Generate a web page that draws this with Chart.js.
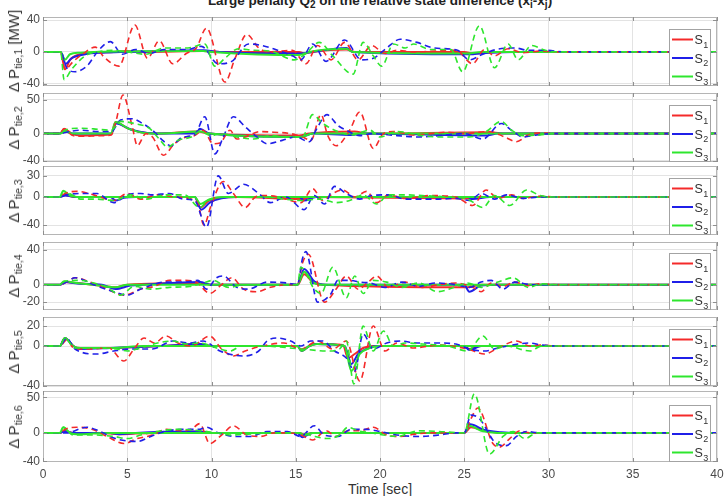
<!DOCTYPE html>
<html><head><meta charset="utf-8">
<script src="https://cdn.jsdelivr.net/npm/chart.js@4/dist/chart.umd.min.js"></script>
<style>
body{margin:0;background:#fff;}
#wrap{position:relative;width:725px;height:496px;overflow:hidden;background:#fff;font-family:"Liberation Sans",Arial,sans-serif;}
canvas{position:absolute;left:0;}
.yl{position:absolute;white-space:nowrap;font-size:15px;color:#333;transform:translate(-50%,-50%) rotate(-90deg);line-height:18px;}
.yl sub{font-size:10.5px;vertical-align:-3px;}
#title{position:absolute;left:43px;width:674px;top:-7px;text-align:center;font-weight:bold;font-size:13.5px;line-height:15px;color:#222;white-space:nowrap;}
#title sub{font-size:10px;vertical-align:-3px;}
#xt{position:absolute;left:43px;width:674px;top:481px;text-align:center;font-size:14px;color:#333;}
</style></head>
<body><div id="wrap">
<div id="title">Large penalty Q<sub>2</sub> on the relative state difference (x<sub>i</sub>-x<sub>j</sub>)</div>
<div id="xt">Time [sec]</div>
</div>
<script>
// ---------------- DATA ----------------
const timeTicks = [0, 5, 10, 15, 20, 25, 30, 35, 40];
const seriesNames = ['S1', 'S2', 'S3'];
const panelLabels = ['tie,1', 'tie,2', 'tie,3', 'tie,4', 'tie,5', 'tie,6'];
const yTickValues = [[-40, 0, 40], [-40, 0, 50], [-40, 0, 30], [-20, 0, 40], [-40, 0, 20], [-40, 0, 50]];
const yLimits = [[-43, 44], [-42, 60], [-54, 44], [-29, 49], [-40, 29], [-41, 59]];

// panel 1
const tie1_S1 = [[0,0],[1.05,0],[1.3,-22],[1.6,-10],[2.2,-3],[3,-1],[4.2,0],[5,1],[6,0],[9.5,1],[10.5,0],[15.2,0],[15.5,-2],[16,0],[18,3],[18.5,0],[25,0],[25.5,-2],[27,0],[40,0]];
const tie1_S2 = [[0,0],[1.05,0],[1.35,-15],[1.7,-8],[2.5,-3],[3.5,-1],[5,0],[9.5,2],[10.5,0],[15.3,-2],[16,0],[18,5],[18.4,0],[25.2,-3],[26.5,-1],[28,0],[40,0]];
const tie1_S3 = [[0,0],[1.05,0],[1.3,-10],[1.6,-3],[2.2,-1],[3,0],[9.5,1],[10,0],[15.2,-4],[15.8,0],[18,4],[18.4,0],[25.2,-2],[26,0],[40,0]];
const tie1_S1d = [[0,0],[1.05,0],[1.3,-22],[1.8,-12],[2.4,-2],[3.1,6],[3.6,-6],[4.5,-18],[5.45,34],[6.2,-8],[6.9,14],[7.7,-15],[8.5,-2],[9.1,5],[9.7,30],[10.8,-38],[11.4,-8],[12.1,22],[12.8,5],[13.4,0],[14.8,2],[15.6,-15],[16.3,8],[17.1,-10],[17.9,12],[18.7,-10],[19.5,8],[20.3,-2],[21,2],[22,0],[24.5,2],[25.5,-15],[26.2,3],[26.8,-5],[27.6,4],[28.5,-1],[29.5,1],[30.5,0],[40,0]];
const tie1_S2d = [[0,0],[1.05,0],[1.4,-20],[1.9,-25],[2.6,-18],[3.3,2],[4.0,13],[4.7,-3],[5.5,3],[6.3,-2],[7.2,3],[8.5,3],[9.4,7],[10.4,-15],[11.2,-12],[12.2,10],[13,8],[13.8,3],[14.8,-5],[15.3,-10],[16,10],[16.8,-12],[17.9,15],[18.9,-10],[19.6,-8],[20.4,5],[21.2,16],[22.2,12],[23.2,5],[24.6,2],[25.3,-10],[26.1,-3],[26.9,3],[28,5],[28.8,2],[29.8,2],[31,0],[40,0]];
const tie1_S3d = [[0,0],[1.05,0],[1.25,-35],[1.7,-22],[2.5,-5],[3.2,0],[4.2,2],[5,0],[6.1,-3],[7.2,5],[8.6,5],[9.6,10],[10.2,-18],[10.8,-8],[11.6,4],[12.5,2],[13.5,1],[14.9,-10],[15.6,-2],[16.4,12],[17.2,-5],[18.4,-28],[19,12],[19.6,-5],[20.1,-18],[20.8,10],[21.5,5],[22,10],[23,3],[24.2,3],[24.9,-25],[25.9,33],[26.8,-20],[27.6,10],[28.2,-10],[29,8],[29.8,2],[30.5,0],[40,0]];

// panel 2
const tie2_S1 = [[0,0],[1,0],[1.25,7],[1.7,0],[2.2,-3],[3.5,-2],[4.05,-1],[4.3,17],[5,8],[5.8,2],[6.8,0],[9.2,3],[9.8,0],[15.2,-3],[15.8,0],[18.5,3],[19.2,0],[26.5,2],[27.5,0],[40,0]];
const tie2_S2 = [[0,0],[1,0],[1.3,3],[1.8,0],[4.05,0],[4.35,15],[5.2,6],[6.2,1],[7.2,0],[9.1,0],[9.3,7],[9.9,0],[15.3,-5],[16,0],[18.3,-2],[19,0],[26.3,-3],[27,0],[40,0]];
const tie2_S3 = [[0,0],[1,0],[1.3,3],[1.8,0],[4.05,0],[4.3,17],[5.1,7],[6,1],[7,0],[9.3,3],[9.9,0],[15.3,-5],[16,0],[40,0]];
const tie2_S1d = [[0,0],[1,0],[1.25,7],[1.7,-2],[2.2,-4],[3.5,-3],[4.05,-2],[4.3,15],[4.75,57],[5.3,10],[5.6,-18],[6.1,0],[6.5,-5],[7.15,-32],[7.8,-15],[8.5,-5],[9,-3],[9.5,5],[10.1,-15],[10.5,-14],[11.1,5],[11.5,-8],[12,-5],[12.9,3],[13.7,2],[14.7,0],[15.4,-5],[15.9,-10],[16.5,28],[16.9,-3],[17.4,-18],[18.2,5],[18.8,32],[19.6,-22],[20.2,0],[20.8,3],[22,-2],[23,0],[24,2],[25,0],[26.5,3],[27.4,-5],[28.1,-12],[28.8,-2],[29.5,1],[30.5,0],[40,0]];
const tie2_S2d = [[0,0],[1,0],[1.4,2],[2.2,5],[3.3,3],[4.05,3],[4.6,20],[5.3,22],[5.9,15],[6.5,5],[7.1,-10],[7.6,-18],[8.3,-5],[9,-2],[9.6,25],[10.2,-30],[10.7,-5],[11.3,25],[12,10],[12.7,-5],[13.3,-15],[14.2,-10],[15,-5],[15.8,-12],[16.2,5],[16.85,28],[17.5,12],[18,5],[18.8,-3],[19.5,0],[21,-3],[22.3,-5],[23.5,-3],[25,0],[26.1,-8],[27.2,15],[27.8,5],[28.5,-5],[29.3,-2],[30.2,0],[40,0]];
const tie2_S3d = [[0,0],[1,0],[1.3,5],[2,8],[3,7],[4.05,5],[4.6,18],[5.4,15],[6.3,8],[6.9,-8],[7.4,-20],[8,-10],[8.8,-5],[9.3,3],[10,-3],[10.6,0],[11.5,-5],[12.5,-8],[13.5,-3],[14.5,-5],[15.4,-5],[16,28],[16.6,15],[17.5,3],[18.3,-2],[19.4,5],[20,-5],[21,3],[22.5,-3],[23.5,-5],[24.5,-5],[25.3,-5],[26.3,3],[27.2,18],[27.8,5],[28.5,-3],[29.5,-2],[30.2,0],[40,0]];

// panel 3
const tie3_S1 = [[0,0],[1,0],[1.25,3],[1.8,0],[9,0],[9.35,-15],[9.8,-6],[10.5,-1],[11.5,0],[15.3,-3],[16,0],[25.3,-2],[26,0],[40,0]];
const tie3_S2 = [[0,0],[1,0],[1.3,2],[2,0],[4,0],[4.3,-5],[4.8,-1],[5.5,0],[9,0],[9.4,-18],[9.9,-8],[10.6,-2],[11.5,0],[15.2,0],[15.5,-5],[16.2,0],[25.2,0],[25.5,-3],[26.5,0],[40,0]];
const tie3_S3 = [[0,0],[1,0],[1.2,9],[1.6,2],[2.2,0],[9,0],[9.35,-10],[9.9,-3],[10.8,0],[40,0]];
const tie3_S1d = [[0,0],[1,0],[1.3,5],[2,8],[3,3],[4.2,-5],[5,5],[5.8,-3],[6.8,3],[7.8,0],[8.8,-3],[9.2,-10],[9.55,-40],[10,-10],[10.7,22],[11.3,5],[12,-15],[12.6,0],[13.1,2],[14,0],[15.3,-8],[16,12],[16.6,-5],[17.2,5],[17.8,10],[18.5,0],[19.2,8],[19.8,-8],[20.5,3],[21.5,-2],[23,2],[24.5,0],[25.5,-12],[26.3,10],[27,-2],[27.8,3],[28.5,-2],[29.5,1],[30.5,0],[40,0]];
const tie3_S2d = [[0,0],[1,0],[1.4,3],[2.2,5],[3.2,5],[4.2,-8],[5,3],[5.8,5],[6.5,3],[7.5,5],[8.3,-3],[9,-5],[9.7,-43],[10.4,30],[11,5],[11.9,18],[12.8,5],[13.5,-8],[14.4,0],[15.5,-18],[16.1,2],[16.7,-10],[17.3,15],[18,5],[18.8,-3],[19.5,2],[20.5,3],[21.5,-3],[22.5,-3],[23.5,-3],[24.5,-2],[25.3,-5],[26,5],[26.8,-3],[27.5,3],[28.5,-2],[29.5,0],[40,0]];
const tie3_S3d = [[0,0],[1,0],[1.2,8],[1.8,2],[2.2,-3],[3.2,-3],[4.2,-5],[5.2,3],[6.1,-3],[7.3,3],[8.4,3],[9.3,-15],[9.8,-5],[10.8,0],[13,0],[15.3,-5],[16.4,-3],[17.4,-8],[18.2,-5],[19,3],[19.8,-10],[20.5,3],[21.5,3],[22.5,2],[24,0],[25.2,-3],[26.1,-15],[26.8,2],[27.7,-12],[28.7,10],[29.5,2],[30.3,0],[40,0]];

// panel 4
const tie4_S1 = [[0,0],[1,0],[1.3,3],[2,2],[3,0],[4.3,-3],[5,0],[9.3,2],[10,0],[15.1,0],[15.5,12],[16,3],[16.6,0],[25.2,-3],[26,0],[40,0]];
const tie4_S2 = [[0,0],[1,0],[1.3,3],[2.2,1],[3.5,0],[4.3,-5],[5.2,-1],[6,0],[9.3,3],[10,0],[15.1,0],[15.5,18],[16.1,4],[16.8,0],[25,0],[25.3,-8],[26,-1],[27,0],[40,0]];
const tie4_S3 = [[0,0],[1,0],[1.25,4],[2,2],[3,0],[4.3,-3],[5,0],[15.1,0],[15.5,15],[16,3],[16.6,0],[40,0]];
const tie4_S1d = [[0,0],[1,0],[1.4,3],[1.9,8],[2.8,3],[3.6,-3],[4.8,-12],[5.8,-5],[6.6,-2],[7.5,5],[8.4,5],[9.1,3],[9.9,-10],[10.6,0],[11.2,8],[11.9,-5],[12.7,-8],[13.5,-3],[14.5,0],[15.1,0],[15.4,25],[15.75,35],[16.7,-20],[17.4,-5],[18,10],[18.7,-5],[19.3,3],[19.8,10],[20.5,-3],[21.5,3],[22.5,-3],[23.5,0],[24.5,2],[25.5,-3],[26,-8],[26.6,2],[27.3,-2],[28,3],[28.8,-1],[29.5,1],[30.5,0],[40,0]];
const tie4_S2d = [[0,0],[1,0],[1.4,3],[1.9,8],[3,0],[4.2,-8],[5,-12],[5.8,-5],[7.3,3],[8.4,3],[9.2,5],[9.7,-5],[10.3,8],[10.7,10],[11.5,-3],[12.2,-5],[13.3,3],[14.5,2],[15.1,0],[15.4,30],[15.6,38],[16.3,-20],[17.1,-10],[17.5,5],[18.2,5],[18.8,3],[19.4,2],[20.3,-3],[21.3,3],[22.3,-2],[23.3,2],[24.5,0],[25.3,-3],[26,3],[26.6,5],[27.3,-5],[28,3],[29,0],[40,0]];
const tie4_S3d = [[0,0],[1,0],[1.3,4],[2.2,5],[3,2],[3.8,-3],[4.6,-12],[5.4,-2],[6.4,-5],[7.5,-3],[8.7,-2],[9.5,2],[10.1,5],[11,-3],[12,0],[13.5,0],[15.1,0],[15.3,20],[16.1,-5],[16.5,-10],[17.2,20],[18,-15],[18.5,10],[19,-10],[19.6,5],[20.4,3],[21.3,-3],[22.3,2],[23.4,-8],[24.4,-3],[25.2,2],[26,-3],[27,3],[27.9,8],[28.8,-3],[29.6,1],[30.5,0],[40,0]];

// panel 5
const tie5_S1 = [[0,0],[1,0],[1.3,8],[1.8,0],[2.2,-2],[4,-2],[5.5,-1],[7,0],[9.3,2],[10,0],[15.1,0],[15.35,-5],[15.8,0],[16.2,2],[17.8,1],[18.1,-12],[18.5,-8],[19,-2],[19.6,0],[25,0],[25.3,-3],[26,0],[40,0]];
const tie5_S2 = [[0,0],[1,0],[1.3,8],[1.8,0],[2.2,-3],[4,-2],[5.5,-1],[7,0],[9.3,2],[10,0],[15.1,0],[15.35,-5],[15.8,0],[16.2,2],[17.9,0],[18.3,-18],[18.7,-8],[19.2,-3],[19.8,0],[25,0],[25.3,-4],[26,0],[40,0]];
const tie5_S3 = [[0,0],[1,0],[1.3,8],[1.8,0],[2.2,-2],[4,-2],[6,0],[15.1,0],[15.35,-5],[15.8,0],[16.3,2],[17.9,0],[18.3,-25],[18.8,-8],[19.4,-2],[20,0],[40,0]];
const tie5_S1d = [[0,0],[1,0],[1.4,6],[1.9,-3],[2.8,-3],[3.9,-2],[4.8,-15],[5.4,-3],[6,8],[6.6,3],[7.3,10],[8,3],[8.8,0],[9.9,10],[10.6,-3],[11.3,-10],[12,-5],[13,0],[14.3,3],[15.3,-3],[16.3,5],[17.2,-3],[18,5],[18.8,-35],[19.6,20],[20.3,-5],[21,3],[22,-2],[23.5,1],[25.2,-3],[26.2,-8],[27,-2],[28.1,5],[28.9,0],[29.5,1],[30.5,0],[40,0]];
const tie5_S2d = [[0,0],[1,0],[1.4,8],[1.9,-3],[3.2,-8],[4.2,-5],[5.3,-3],[6.5,-3],[7.7,5],[8.7,3],[9.5,5],[10.5,-5],[11.9,-10],[12.8,-5],[13.3,5],[13.9,8],[14.7,5],[15.3,0],[15.9,5],[16.6,5],[17.3,-5],[18,-12],[18.5,-25],[19,12],[19.6,-3],[20.4,3],[21.2,5],[22.2,3],[23.4,3],[24.5,2],[25.3,-3],[26.2,-5],[27,-2],[28.2,2],[28.8,3],[29.6,1],[30.5,0],[40,0]];
const tie5_S3d = [[0,0],[1,0],[1.3,8],[1.9,-2],[3.5,-2],[4.4,-3],[5,-5],[5.8,-2],[6.8,3],[7.7,5],[8.5,2],[9.3,3],[10.3,-2],[11.1,-5],[11.8,0],[13,0],[15.3,-3],[16.9,-5],[17.6,-3],[18,5],[18.45,-38],[19,20],[19.6,-5],[20.2,15],[20.8,0],[21.5,3],[22.5,2],[24,0],[25.2,-5],[26.1,10],[26.8,-3],[27.5,0],[28.9,-5],[29.6,0],[40,0]];

// panel 6
const tie6_S1 = [[0,0],[1,0],[1.3,3],[1.8,0],[3.5,0],[4.5,-2],[5.5,-1],[7,0],[9.3,2],[10,0],[15.2,0],[15.5,-2],[16,0],[25,0],[25.4,8],[26.2,3],[27.2,0],[40,0]];
const tie6_S2 = [[0,0],[1,0],[1.3,2],[1.8,0],[4,0],[4.5,-2],[5.5,0],[9.3,2],[10,0],[15.1,0],[15.4,-6],[16,0],[25,0],[25.35,12],[26.2,4],[27.2,1],[28,0],[40,0]];
const tie6_S3 = [[0,0],[1,0],[1.2,8],[1.6,0],[2,-2],[3,-1],[4,0],[15.2,0],[15.5,-3],[16,0],[25,0],[25.3,10],[26,3],[27,0],[40,0]];
const tie6_S1d = [[0,0],[1,0],[1.3,5],[2,8],[2.9,5],[3.8,-5],[4.8,-15],[5.6,-8],[6.5,-3],[7.3,5],[8.2,3],[8.8,5],[9.3,13],[9.9,-15],[10.6,-3],[11.3,10],[12.1,-3],[12.9,-5],[13.7,0],[14.5,0],[15.3,-3],[16,-10],[16.8,3],[17.4,-5],[18.1,3],[18.8,3],[19.6,8],[20.4,-3],[21.2,-5],[22,-2],[23,0],[25,0],[25.4,20],[25.8,35],[26.7,-15],[27.1,-20],[27.7,-8],[28.3,3],[28.9,0],[30,0],[40,0]];
const tie6_S2d = [[0,0],[1,0],[1.4,0],[2.6,8],[3.3,3],[4.3,-8],[5.6,-12],[6.4,-5],[7.2,2],[8.3,5],[9.3,5],[9.7,8],[10.4,0],[11.5,-5],[12.3,-5],[13.3,2],[14.5,2],[15.3,-5],[16.1,10],[16.7,-3],[17.5,-5],[18.3,5],[19.2,5],[20,2],[21,-3],[22.4,-5],[23.5,-3],[24.5,0],[25,0],[25.4,25],[25.9,20],[26.9,-15],[27.5,-18],[28.1,-5],[28.7,2],[29.5,0],[40,0]];
const tie6_S3d = [[0,0],[1,0],[1.2,8],[1.8,-3],[3,-3],[4.2,-5],[5,-8],[5.8,-3],[7,3],[8.1,5],[9.3,3],[10.3,0],[11.1,-3],[12,-2],[13.5,0],[15.2,0],[15.8,-3],[16.9,-8],[17.6,-3],[18.1,8],[18.7,3],[19.5,0],[20.2,-3],[21,-5],[22.3,3],[23.5,2],[25,0],[25.6,55],[26.5,-30],[27.3,-5],[27.9,2],[28.6,-8],[29.3,0],[40,0]];

const solidSeries = [
  [tie1_S1, tie1_S2, tie1_S3], [tie2_S1, tie2_S2, tie2_S3], [tie3_S1, tie3_S2, tie3_S3],
  [tie4_S1, tie4_S2, tie4_S3], [tie5_S1, tie5_S2, tie5_S3], [tie6_S1, tie6_S2, tie6_S3]];
const dashedSeries = [
  [tie1_S1d, tie1_S2d, tie1_S3d], [tie2_S1d, tie2_S2d, tie2_S3d], [tie3_S1d, tie3_S2d, tie3_S3d],
  [tie4_S1d, tie4_S2d, tie4_S3d], [tie5_S1d, tie5_S2d, tie5_S3d], [tie6_S1d, tie6_S2d, tie6_S3d]];

// ---------------- LAYOUT / STYLE ----------------
const boxTop = [17, 93, 166, 242, 317, 391];
const boxBottom = [86, 162, 235, 310, 386, 462];
const colors = ['#f42a2a', '#1f1fe8', '#2ee62e'];
const FONT = '"Liberation Sans", Arial, sans-serif';
const PAD = 8, XLAB = 28;

const framePlugin = {
  id: 'frame',
  afterDraw(chart) {
    const { ctx, chartArea: a } = chart;
    const xs = chart.scales.x, ys = chart.scales.y;
    ctx.save();
    ctx.lineWidth = 1;
    ctx.strokeStyle = '#b5b5b5';
    ctx.strokeRect(Math.round(a.left) + 0.5, Math.round(a.top) + 0.5, Math.round(a.right - a.left) - 1, Math.round(a.bottom - a.top) - 1);
    ctx.strokeStyle = '#8f8f8f';
    ctx.beginPath();
    xs.ticks.forEach(t => {
      const p = Math.round(xs.getPixelForValue(t.value)) + 0.5;
      ctx.moveTo(p, a.top); ctx.lineTo(p, a.top + 4);
      ctx.moveTo(p, a.bottom); ctx.lineTo(p, a.bottom - 4);
    });
    ys.ticks.forEach(t => {
      const p = Math.round(ys.getPixelForValue(t.value)) + 0.5;
      ctx.moveTo(a.left, p); ctx.lineTo(a.left + 4, p);
      ctx.moveTo(a.right, p); ctx.lineTo(a.right - 4, p);
    });
    ctx.stroke();
    // legend
    const lx = Math.round(a.right) - 48, lw = 41, lh = 56;
    const ly = Math.round(a.bottom) - 1 - lh;
    ctx.fillStyle = '#fff';
    ctx.fillRect(lx, ly, lw, lh);
    ctx.strokeStyle = '#a3a3a3';
    ctx.strokeRect(lx + 0.5, ly + 0.5, lw, lh);
    const rows = [10.5, 29, 47.5];
    const solids = chart.data.datasets.filter(d => !d.borderDash);
    solids.slice().reverse().forEach((d, i) => {
      const y = ly + rows[i];
      ctx.strokeStyle = d.borderColor; ctx.lineWidth = 2;
      ctx.beginPath(); ctx.moveTo(lx + 3, y); ctx.lineTo(lx + 24, y); ctx.stroke();
      ctx.fillStyle = '#333';
      ctx.font = '12.5px ' + FONT;
      ctx.textBaseline = 'alphabetic'; ctx.textAlign = 'left';
      const name = d.label;
      ctx.fillText(name[0], lx + 25.5, y + 4.5);
      const w = ctx.measureText(name[0]).width;
      ctx.font = '9px ' + FONT;
      ctx.fillText(name.slice(1), lx + 25.5 + w + 0.5, y + 8);
    });
    ctx.restore();
  }
};

const wrap = document.getElementById('wrap');
for (let p = 0; p < 6; p++) {
  const last = p === 5;
  const cv = document.createElement('canvas');
  const h = boxBottom[p] - boxTop[p] + PAD + (last ? XLAB : PAD);
  cv.width = 725; cv.height = h;
  cv.style.top = (boxTop[p] - PAD) + 'px';
  cv.style.width = '725px'; cv.style.height = h + 'px';
  wrap.appendChild(cv);

  const lab = document.createElement('div');
  lab.className = 'yl';
  lab.innerHTML = '&Delta; P<sub>' + panelLabels[p] + '</sub>' + (p === 0 ? ' [MW]' : '');
  lab.style.left = '16px';
  lab.style.top = ((boxTop[p] + boxBottom[p]) / 2 + (p === 0 ? -1 : 0)) + 'px';
  wrap.appendChild(lab);

  const datasets = [];
  for (let s = 2; s >= 0; s--) {
    datasets.push({
      label: seriesNames[s] + '_d', data: dashedSeries[p][s].map(([x, y]) => ({ x, y })),
      borderColor: colors[s], borderWidth: 1.6, borderDash: [6, 4],
      pointRadius: 0, cubicInterpolationMode: 'monotone', fill: false
    });
  }
  for (let s = 2; s >= 0; s--) {
    datasets.push({
      label: seriesNames[s], data: solidSeries[p][s].map(([x, y]) => ({ x, y })),
      borderColor: colors[s], borderWidth: 2,
      pointRadius: 0, cubicInterpolationMode: 'monotone', fill: false
    });
  }

  new Chart(cv.getContext('2d'), {
    type: 'line',
    data: { datasets },
    options: {
      responsive: false, animation: false, devicePixelRatio: 1,
      layout: { padding: { top: PAD, bottom: last ? 0 : PAD, left: 0, right: 8 } },
      plugins: { legend: { display: false }, tooltip: { enabled: false } },
      scales: {
        x: {
          type: 'linear', min: 0, max: 40,
          afterBuildTicks: s => { s.ticks = timeTicks.map(v => ({ value: v })); },
          afterFit: s => { s.height = last ? XLAB : 0; s.paddingLeft = 0; s.paddingRight = 0; },
          grid: { color: '#e3e3e3', drawTicks: false },
          border: { display: false },
          ticks: { display: last, padding: 5, autoSkip: false, maxRotation: 0, color: '#4a4a4a', font: { family: FONT, size: 12 } }
        },
        y: {
          type: 'linear', min: yLimits[p][0], max: yLimits[p][1],
          afterBuildTicks: s => { s.ticks = yTickValues[p].map(v => ({ value: v })); },
          afterFit: s => { s.width = 43; s.paddingTop = 0; s.paddingBottom = 0; },
          grid: { color: '#e3e3e3', drawTicks: false },
          border: { display: false },
          ticks: { padding: 3, color: '#4a4a4a', font: { family: FONT, size: 12 } }
        }
      }
    },
    plugins: [framePlugin]
  });
}
</script>
</body></html>
